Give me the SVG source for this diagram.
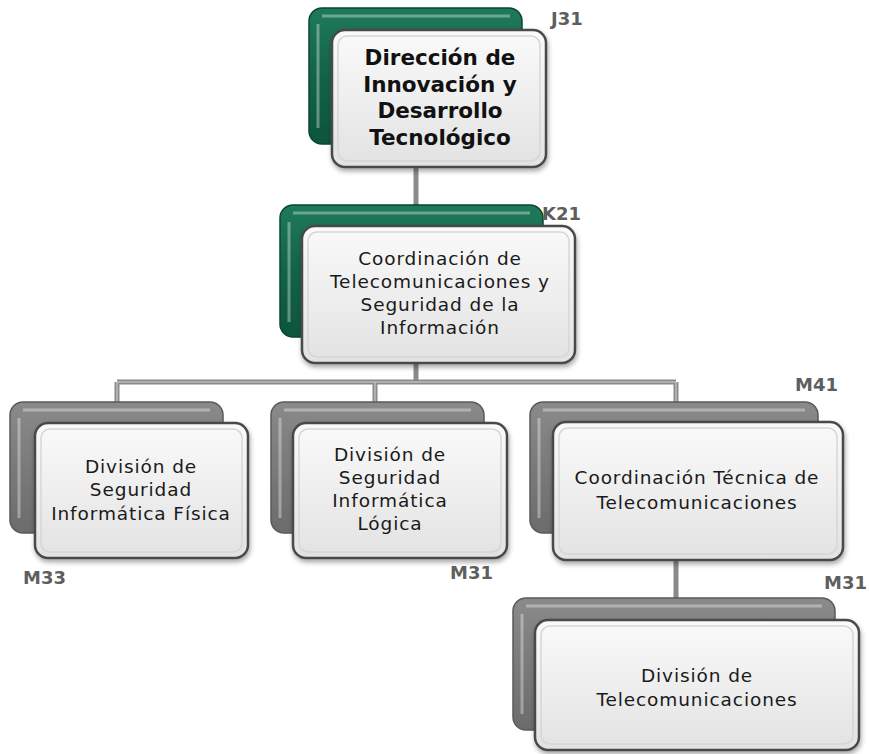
<svg xmlns="http://www.w3.org/2000/svg" width="869" height="754" viewBox="0 0 869 754">
<defs>
<linearGradient id="gGreen" x1="0" y1="0" x2="0" y2="1">
<stop offset="0" stop-color="#1e7a5a"/><stop offset="0.5" stop-color="#136349"/><stop offset="1" stop-color="#0d553d"/>
</linearGradient>
<linearGradient id="gGray" x1="0" y1="0" x2="0" y2="1">
<stop offset="0" stop-color="#8a8a8a"/><stop offset="0.5" stop-color="#7a7a7a"/><stop offset="1" stop-color="#6c6c6c"/>
</linearGradient>
<linearGradient id="gFront" x1="0" y1="0" x2="0" y2="1">
<stop offset="0" stop-color="#fafafa"/><stop offset="0.6" stop-color="#ececec"/><stop offset="1" stop-color="#e2e2e2"/>
</linearGradient>
<filter id="sh" x="-10%" y="-10%" width="125%" height="130%">
<feGaussianBlur in="SourceAlpha" stdDeviation="2.5"/><feOffset dx="1" dy="3"/>
<feComponentTransfer><feFuncA type="linear" slope="0.35"/></feComponentTransfer>
<feMerge><feMergeNode/><feMergeNode in="SourceGraphic"/></feMerge>
</filter>
</defs>
<style>
.backG{fill:url(#gGreen);stroke:#0b4632;stroke-width:1.5}
.backK{fill:url(#gGray);stroke:#5a5a5a;stroke-width:1.5}
.hl{fill:none;stroke:#ffffff;stroke-opacity:0.35;stroke-width:3}
.front{fill:url(#gFront);stroke:#4a4a4a;stroke-width:2.5}
.inner{fill:none;stroke:#d6d6d6;stroke-width:1.5}
.t{font-family:"DejaVu Sans",sans-serif;font-size:18.5px;fill:#1a1a1a;text-anchor:middle;letter-spacing:0.9px}
.tb{font-family:"DejaVu Sans",sans-serif;font-size:21.5px;font-weight:bold;fill:#111;text-anchor:middle}
.code{font-family:"DejaVu Sans",sans-serif;font-size:18px;font-weight:bold;fill:#5e5e5e}
.cn{fill:none;stroke:#8a8a8a;stroke-width:5}
.cni{fill:none;stroke:#bdbdbd;stroke-width:1.5}
</style>
<g id="connectors">
<path class="cn" d="M416 168V205M416 363V382M117 382H676M117 382V402M375 382V402M676 382V402M676 560V598"/>
<path class="cni" d="M117 382H676M117 382V402M375 382V402M676 382V402"/>
</g>
<g id="n-j31">
<rect class="backG" x="309" y="8" width="213" height="136" rx="13"/>
<path class="hl" d="M318 24V128M322 16H510"/>
<rect class="front" x="332" y="30" width="214" height="137" rx="13" filter="url(#sh)"/>
<rect class="inner" x="338" y="36" width="202" height="125" rx="9"/>
<text class="tb" x="440" y="65">Dirección de</text>
<text class="tb" x="440" y="92">Innovación y</text>
<text class="tb" x="440" y="118">Desarrollo</text>
<text class="tb" x="440" y="145">Tecnológico</text>
<text class="code" x="551" y="25">J31</text>
</g>
<g id="n-k21">
<rect class="backG" x="280" y="205" width="263" height="132" rx="13"/>
<path class="hl" d="M289 222V322M293 213H530"/>
<rect class="front" x="302" y="226" width="273" height="137" rx="13" filter="url(#sh)"/>
<rect class="inner" x="308" y="232" width="261" height="125" rx="9"/>
<text class="t" x="440" y="265">Coordinación de</text>
<text class="t" x="440" y="288">Telecomunicaciones y</text>
<text class="t" x="440" y="311">Seguridad de la</text>
<text class="t" x="440" y="334">Información</text>
<text class="code" x="542" y="220">K21</text>
</g>
<g id="n-m33">
<rect class="backK" x="10" y="402" width="213" height="131" rx="13"/>
<path class="hl" d="M19 418V518M23 410H210"/>
<rect class="front" x="35" y="423" width="213" height="135" rx="13" filter="url(#sh)"/>
<rect class="inner" x="41" y="429" width="201" height="123" rx="9"/>
<text class="t" x="141" y="473">División de</text>
<text class="t" x="141" y="496">Seguridad</text>
<text class="t" x="141" y="520">Informática Física</text>
<text class="code" x="23" y="584">M33</text>
</g>
<g id="n-m31a">
<rect class="backK" x="271" y="402" width="213" height="131" rx="13"/>
<path class="hl" d="M280 418V518M284 410H471"/>
<rect class="front" x="293" y="423" width="214" height="135" rx="13" filter="url(#sh)"/>
<rect class="inner" x="299" y="429" width="202" height="123" rx="9"/>
<text class="t" x="390" y="461">División de</text>
<text class="t" x="390" y="484">Seguridad</text>
<text class="t" x="390" y="507">Informática</text>
<text class="t" x="390" y="530">Lógica</text>
<text class="code" x="450" y="579">M31</text>
</g>
<g id="n-m41">
<rect class="backK" x="530" y="402" width="288" height="131" rx="13"/>
<path class="hl" d="M539 418V518M543 410H805"/>
<rect class="front" x="553" y="422" width="290" height="138" rx="13" filter="url(#sh)"/>
<rect class="inner" x="559" y="428" width="278" height="126" rx="9"/>
<text class="t" x="697" y="484">Coordinación Técnica de</text>
<text class="t" x="697" y="509">Telecomunicaciones</text>
<text class="code" x="795" y="391">M41</text>
</g>
<g id="n-m31b">
<rect class="backK" x="513" y="598" width="322" height="132" rx="13"/>
<path class="hl" d="M522 614V714M526 606H822"/>
<rect class="front" x="535" y="620" width="324" height="130" rx="13" filter="url(#sh)"/>
<rect class="inner" x="541" y="626" width="312" height="118" rx="9"/>
<text class="t" x="697" y="682">División de</text>
<text class="t" x="697" y="706">Telecomunicaciones</text>
<text class="code" x="824" y="589">M31</text>
</g>
</svg>
